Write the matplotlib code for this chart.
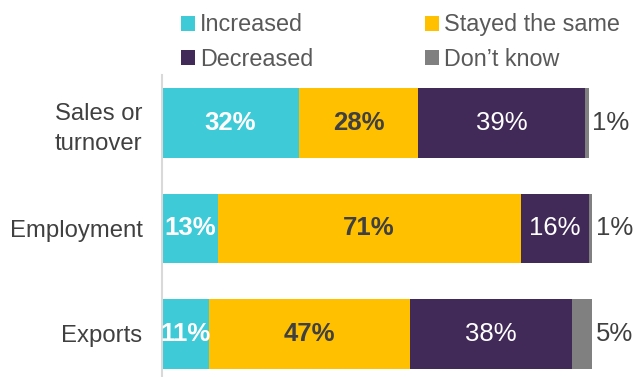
import matplotlib.pyplot as plt
import numpy as np

plt.rcParams['font.family'] = ['Liberation Sans', 'DejaVu Sans']

categories = ["Sales or\nturnover", "Employment", "Exports"]
series = ["Increased", "Stayed the same", "Decreased", "Don\u2019t know"]
increased = [32, 13, 11]
stayed = [28, 71, 47]
decreased = [39, 16, 38]
dont_know = [1, 1, 5]

colors = ["#3ECAD6", "#FFC000", "#412958", "#808080"]
label_colors = ["white", "#404040", "white", "#404040"]
label_weights = ["bold", "bold", "normal", "normal"]

fig = plt.figure(figsize=[6.34, 3.77], dpi=100)
ax = fig.add_axes([162 / 634, 0, 430 / 634, 302 / 377])

ypos = np.arange(len(categories))[::-1]
values = [increased, stayed, decreased, dont_know]
left = np.zeros(len(categories))
for i, vals in enumerate(values):
    vals = np.array(vals, dtype=float)
    ax.barh(ypos, vals, left=left, height=0.66, color=colors[i],
            label=series[i])
    for y, l, v in zip(ypos, left, vals):
        if i == 3:
            # small "don't know" share goes to the right of the bar
            ax.text(l + v + 0.6, y, "{:.0f}%".format(v), ha="left",
                    va="center", fontsize=18.5, color=label_colors[i],
                    clip_on=False)
        else:
            ax.text(l + v / 2, y, "{:.0f}%".format(v), ha="center",
                    va="center", fontsize=18.5, color=label_colors[i],
                    fontweight=label_weights[i])
    left += vals

ax.set_xlim(0, 100.7)
ax.set_ylim(-0.41, 2.455)
ax.set_yticks(ypos)
ax.set_yticklabels(categories, fontsize=17.2, color="#404040",
                   linespacing=1.45)
ax.tick_params(axis="y", length=0, pad=14)
ax.set_xticks([])
for side in ["top", "right", "bottom"]:
    ax.spines[side].set_visible(False)
ax.spines["left"].set_color("#D9D9D9")
ax.spines["left"].set_linewidth(1.5)

# legend: two columns, square markers
handles, labels = ax.get_legend_handles_labels()
order = [0, 2, 1, 3]
fig.legend([handles[k] for k in order], [labels[k] for k in order],
           ncol=2, frameon=False, loc="upper left",
           bbox_to_anchor=(160 / 634, 1.02), fontsize=16.8,
           labelcolor="#595959", handlelength=0.6, handleheight=0.6,
           handletextpad=0.2, columnspacing=4.8, labelspacing=0.48)

fig.savefig("out.png", dpi=100)
